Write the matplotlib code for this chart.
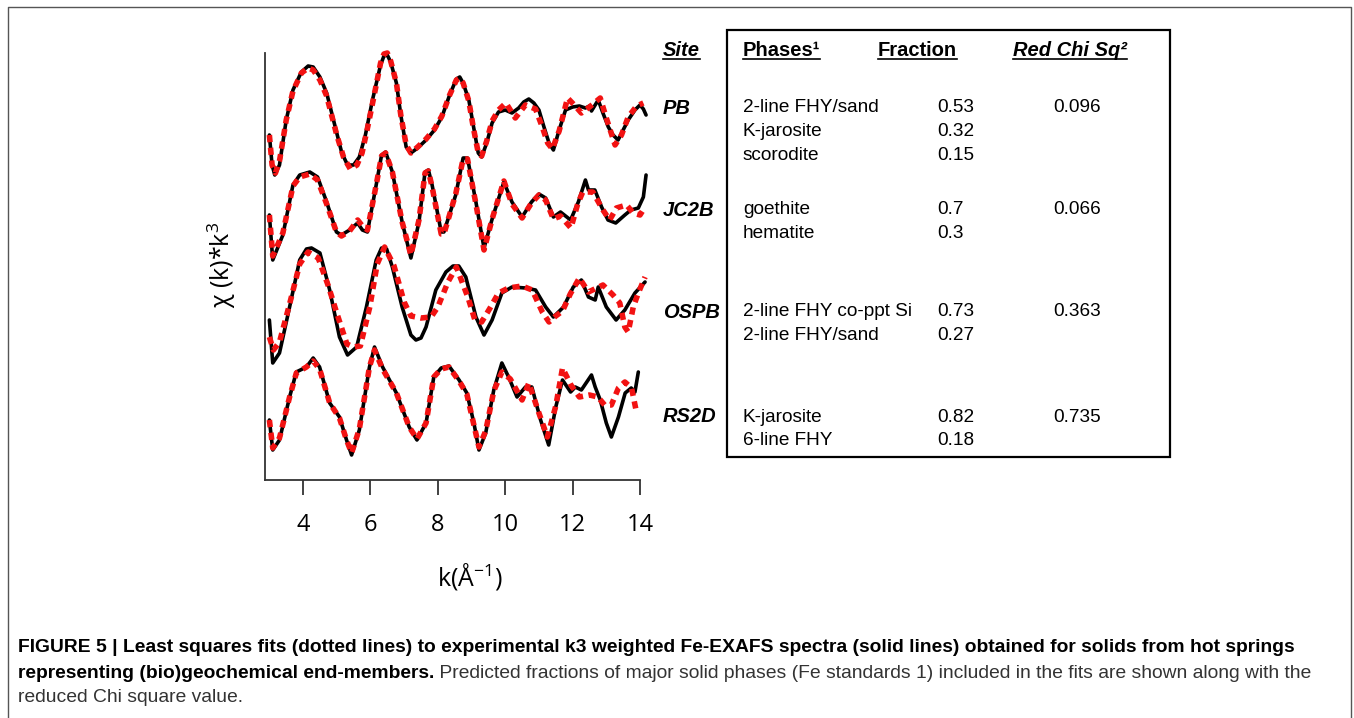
import matplotlib
matplotlib.use("Agg")
import matplotlib.pyplot as plt
from matplotlib.lines import Line2D
from matplotlib.patches import Rectangle

plt.rcParams['mathtext.fontset'] = 'custom'
plt.rcParams['mathtext.rm'] = 'Open Sans'

# Espectros EXAFS (k, chi): datos (negro) y ajuste (rojo)
sites = ["PB", "JC2B", "OSPB", "RS2D"]
offsets = [36.5, 27.0, 16.8, 6.5]

pb_k = [3.0, 3.08, 3.16, 3.3, 3.5, 3.7, 3.95, 4.15, 4.3, 4.5, 4.7, 5.0, 5.15, 5.32, 5.5, 5.67, 5.85,
        6.06, 6.3, 6.4, 6.5, 6.6, 6.77, 6.9, 7.06, 7.2, 7.4, 7.65, 7.9, 8.12, 8.35, 8.55, 8.65, 8.75,
        8.92, 9.05, 9.2, 9.3, 9.45, 9.61, 9.8, 10.0, 10.2, 10.4, 10.55, 10.7, 10.85, 11.0, 11.15,
        11.3, 11.43, 11.6, 11.79, 12.0, 12.2, 12.38, 12.5, 12.56, 12.76, 12.9, 13.06, 13.2, 13.35,
        13.5, 13.65, 13.85, 14.0, 14.1, 14.18]
pb_data = [-2.0, -5.0, -6.0, -5.0, -0.5, 2.5, 4.3, 4.9, 4.8, 3.8, 2.2, -1.8, -3.8, -5.0, -5.0, -4.2,
           -2.0, 1.5, 5.0, 5.9, 6.0, 5.3, 3.2, 0.0, -3.2, -3.8, -3.3, -2.5, -1.5, -0.2, 2.0, 3.6, 3.8,
           3.2, 1.5, -1.0, -3.8, -4.2, -2.8, -0.8, 0.3, 0.5, 0.2, 0.7, 1.3, 1.6, 1.2, 0.5, -1.2,
           -2.8, -3.5, -1.5, 0.5, 0.8, 0.9, 0.7, 0.9, 0.4, 1.5, 0.2, -1.2, -2.0, -2.5,
           -1.5, -0.5, 0.5, 1.0, 0.6, 0.0]
pb_fit_k = [3.0, 3.08, 3.18, 3.3, 3.5, 3.7, 3.95, 4.15, 4.3, 4.5, 4.7, 5.0, 5.2, 5.4, 5.6, 5.75, 5.9,
            6.1, 6.3, 6.4, 6.5, 6.6, 6.77, 6.9, 7.06, 7.2, 7.4, 7.65, 7.9, 8.12, 8.35, 8.55, 8.65,
            8.75, 8.92, 9.05, 9.2, 9.3, 9.45, 9.61, 9.8, 10.02, 10.3, 10.6, 10.9, 11.1, 11.26, 11.4,
            11.6, 11.85, 12.05, 12.26, 12.5, 12.82, 13.0, 13.26, 13.45, 13.65, 13.9, 14.1]
pb_fit = [-2.0, -5.0, -5.8, -4.6, -0.5, 2.4, 4.2, 4.7, 4.5, 3.5, 1.9, -2.0, -4.2, -5.4, -5.0, -3.8,
          -1.5, 1.8, 5.2, 6.1, 6.2, 5.4, 3.2, 0.0, -3.0, -3.8, -3.2, -2.4, -1.4, -0.1, 2.0, 3.5,
          3.7, 3.2, 1.4, -1.2, -3.8, -4.1, -2.6, -0.6, 0.5, 1.2, -0.3, 1.0, 0.6, -1.2, -2.8, -3.4,
          -1.6, 1.7, 1.0, 0.2, 0.8, 1.7, -0.3, -3.0, -2.0, -0.2, 0.9, 1.2]

jc_k = [3.0, 3.1, 3.4, 3.7, 3.9, 4.2, 4.43, 4.7, 4.99, 5.14, 5.38, 5.62, 5.76, 5.91, 6.17, 6.33,
        6.45, 6.65, 6.94, 7.2, 7.44, 7.62, 7.72, 7.83, 8.1, 8.18, 8.53, 8.75, 8.88, 9.13, 9.37,
        9.62, 9.96, 10.2, 10.5, 10.78, 11.0, 11.2, 11.43, 11.64, 11.94, 12.17, 12.38, 12.47, 12.66,
        12.86, 13.05, 13.28, 13.55, 13.73, 13.95, 14.1, 14.18]
jc_data = [-0.5, -5.0, -2.5, 2.5, 3.5, 3.8, 3.3, 0.8, -2.2, -2.5, -2.0, -1.3, -2.0, -2.2, 2.5, 5.5,
           5.8, 3.8, -1.2, -4.8, -1.2, 3.8, 4.0, 2.5, -2.2, -2.2, 1.5, 5.2, 5.2, 0.8, -3.8,
           -0.8, 2.8, 0.8, -0.7, 0.8, 1.6, 1.2, -0.7, -0.2, -1.0, 0.8, 3.0, 2.0, 2.0,
           0.3, -1.0, -1.3, -0.5, 0.0, 0.2, 1.3, 3.5]
jc_fit_k = [3.0, 3.1, 3.4, 3.7, 3.9, 4.2, 4.43, 4.7, 4.99, 5.14, 5.38, 5.62, 5.76, 5.91, 6.17, 6.33,
            6.45, 6.65, 6.94, 7.2, 7.44, 7.62, 7.72, 7.83, 8.1, 8.18, 8.53, 8.75, 8.88, 9.13, 9.37,
            9.62, 9.96, 10.2, 10.5, 10.78, 11.0, 11.2, 11.43, 11.64, 11.95, 12.15, 12.3, 12.6, 12.9,
            13.1, 13.3, 13.6, 13.8, 14.0, 14.15]
jc_fit = [-0.5, -4.6, -2.3, 2.4, 3.3, 3.6, 3.0, 0.6, -2.2, -2.6, -2.1, -1.0, -1.6, -2.0, 2.5, 5.4,
          5.7, 3.8, -1.2, -4.5, -1.0, 3.7, 3.9, 2.3, -2.4, -2.4, 1.6, 5.1, 5.1, 0.6, -4.0,
          -0.8, 2.9, 0.6, -0.8, 0.7, 1.5, 1.0, -0.9, -0.6, -1.8, 0.6, 1.8, 1.8, 0.0,
          -1.0, 0.2, 0.5, -0.3, -0.5, 0.3]

os_k = [3.0, 3.1, 3.3, 3.6, 3.9, 4.1, 4.25, 4.5, 4.79, 5.08, 5.32, 5.59, 5.88, 6.17, 6.33, 6.48,
        6.65, 6.94, 7.2, 7.35, 7.5, 7.65, 7.94, 8.24, 8.45, 8.62, 8.83, 9.13, 9.37, 9.61, 9.9, 10.2,
        10.6, 10.9, 11.2, 11.43, 11.73, 12.02, 12.26, 12.47, 12.67, 12.76, 13.0, 13.29, 13.55,
        13.85, 14.15]
os_data = [-0.8, -5.1, -4.1, 0.5, 5.2, 6.3, 6.4, 5.9, 2.2, -2.5, -4.3, -3.5, 0.5, 5.2, 6.4, 6.3,
           4.5, 0.5, -2.3, -2.8, -2.6, -1.5, 2.2, 4.0, 4.6, 4.6, 3.5, -0.5, -2.3, -0.8, 1.9, 2.5,
           2.4, 2.2, 0.5, -0.5, 0.5, 2.5, 3.2, 1.5, 1.2, 2.5, 0.5, -0.8, 0.2, 1.9, 3.0]
os_fit_k = [3.0, 3.12, 3.3, 3.6, 3.9, 4.15, 4.45, 4.75, 5.0, 5.3, 5.5, 5.7, 5.98, 6.2, 6.42, 6.7,
            7.0, 7.2, 7.5, 7.8, 8.0, 8.3, 8.55, 8.9, 9.1, 9.3, 9.55, 9.8, 10.1, 10.5, 10.8, 11.1,
            11.3, 11.5, 11.7, 11.93, 12.2, 12.47, 12.9, 13.2, 13.4, 13.55, 13.65, 13.8, 13.95,
            14.15]
os_fit = [-2.5, -3.8, -3.0, 0.8, 4.8, 6.0, 5.4, 2.6, -0.1, -3.2, -3.5, -3.4, 0.5, 4.8, 6.5, 4.6,
          1.0, -0.4, -0.6, -0.5, 0.5, 3.0, 4.5, 1.4, -0.8, -1.0, 0.4, 1.9, 2.4, 2.6, 2.2, 0.0,
          -1.0, -0.4, 0.1, 1.8, 3.4, 2.0, 2.7, 1.7, 0.9, -1.5, -2.0, 0.5, 1.9, 3.5]

rs_k = [3.0, 3.1, 3.3, 3.6, 3.8, 4.1, 4.3, 4.49, 4.79, 5.08, 5.29, 5.44, 5.67, 5.97, 6.12, 6.36,
        6.77, 7.15, 7.38, 7.65, 7.88, 8.1, 8.33, 8.63, 8.86, 9.07, 9.22, 9.42, 9.66, 9.9, 10.1,
        10.35, 10.6, 10.79, 11.05, 11.29, 11.5, 11.7, 11.94, 12.08, 12.26, 12.56, 12.67, 12.82,
        13.0, 13.15, 13.36, 13.56, 13.74, 13.85, 13.95]
rs_data = [-0.5, -3.5, -2.5, 1.8, 4.3, 4.8, 5.7, 4.8, 1.2, -0.2, -2.5, -4.0, -1.5, 4.8, 6.8, 4.8,
           2.2, -1.2, -2.5, -0.8, 3.8, 4.7, 4.9, 3.5, 2.2, -0.8, -3.5, -1.8, 2.5, 5.2, 3.8,
           1.8, 2.8, 2.8, -0.5, -3.0, 0.8, 3.5, 2.3, 2.8, 2.5, 4.0, 2.8, 1.5,
           -0.8, -2.2, -0.2, 2.2, 2.7, 2.3, 4.3]
rs_fit_k = [3.0, 3.1, 3.3, 3.6, 3.8, 4.1, 4.3, 4.49, 4.79, 5.08, 5.29, 5.44, 5.67, 5.97, 6.12, 6.36,
            6.77, 7.15, 7.38, 7.65, 7.88, 8.1, 8.33, 8.63, 8.86, 9.07, 9.22, 9.42, 9.66, 9.9,
            10.15, 10.5, 10.7, 11.0, 11.25, 11.5, 11.7, 11.95, 12.2, 12.5, 12.75, 12.95, 13.15,
            13.36, 13.55, 13.75, 13.9]
rs_fit = [-0.5, -3.3, -2.3, 1.8, 4.2, 4.8, 5.4, 4.6, 1.2, -0.3, -2.5, -3.8, -1.4, 4.8, 6.5, 4.6,
          2.2, -1.2, -2.4, -0.8, 3.8, 4.6, 4.8, 3.4, 2.1, -1.0, -3.2, -1.6, 2.4, 4.3, 3.6,
          1.5, 3.2, 0.2, -2.2, 0.9, 4.7, 3.0, 1.8, 2.0, 1.8, 1.0, 1.0, 2.7, 3.3, 2.7, 0.2]

data_k = [pb_k, jc_k, os_k, rs_k]
data_chi = [pb_data, jc_data, os_data, rs_data]
fit_k = [pb_fit_k, jc_fit_k, os_fit_k, rs_fit_k]
fit_chi = [pb_fit, jc_fit, os_fit, rs_fit]

# Tabla de fases
site_rows_y = [108, 210, 312, 417]
phases = [["2-line FHY/sand", "K-jarosite", "scorodite"],
          ["goethite", "hematite"],
          ["2-line FHY co-ppt Si", "2-line FHY/sand"],
          ["K-jarosite", "6-line FHY"]]
fractions = [["0.53", "0.32", "0.15"], ["0.7", "0.3"], ["0.73", "0.27"], ["0.82", "0.18"]]
redchi = ["0.096", "0.066", "0.363", "0.735"]

W, H = 1354, 718
fig = plt.figure(figsize=(W / 100, H / 100), dpi=100)

def fx(px):
    return px / W

def fy(py):
    return 1 - py / H

ax = fig.add_axes([fx(265), fy(480), fx(640) - fx(265), fy(53) - fy(480)])
for i in range(4):
    ax.plot(data_k[i], [c + offsets[i] for c in data_chi[i]], color='black', lw=2.6,
            solid_joinstyle='round', solid_capstyle='round', clip_on=False, zorder=2)
    ax.plot(fit_k[i], [c + offsets[i] for c in fit_chi[i]], color='#f21212', lw=4.0,
            linestyle=(0, (1.3, 1.0)), clip_on=False, zorder=3)

ax.set_xlim(2.87, 14.0)
ax.set_ylim(0, 42.7)
ax.set_xticks([4, 6, 8, 10, 12, 14])
ax.set_yticks([])
for s in ['top', 'right']:
    ax.spines[s].set_visible(False)
for s in ['left', 'bottom']:
    ax.spines[s].set_color('#333333')
    ax.spines[s].set_linewidth(1.3)
ax.tick_params(axis='x', direction='out', length=11, width=1.3, color='#333333', pad=13,
               labelsize=17)
for lab in ax.get_xticklabels():
    lab.set_fontfamily('Open Sans')
ax.patch.set_alpha(0)

fig.text(fx(470), fy(577), r'k(Å$^{\mathregular{-1}}$)', family='Open Sans', fontsize=18,
         ha='center', va='center')
fig.text(fx(222), fy(265), r'χ (k)*k$^{\mathregular{3}}$', family='Open Sans', fontsize=18,
         rotation=90, ha='center', va='center')

# Recuadro de la tabla
fig.add_artist(Rectangle((fx(727), fy(457)), fx(1170) - fx(727), fy(30) - fy(457),
                         transform=fig.transFigure, fill=False, ec='black', lw=1.6))

tf = 'Liberation Sans'
headers = []
headers.append(fig.text(fx(663), fy(50), "Site", family=tf, fontsize=14.5, weight='bold',
                        style='italic', va='center'))
headers.append(fig.text(fx(743), fy(50), "Phases¹", family=tf, fontsize=14.5, weight='bold',
                        va='center'))
headers.append(fig.text(fx(878), fy(50), "Fraction", family=tf, fontsize=14.5, weight='bold',
                        va='center'))
headers.append(fig.text(fx(1013), fy(50), "Red Chi Sq²", family=tf, fontsize=14.5, weight='bold',
                        style='italic', va='center'))

for i in range(4):
    y0 = site_rows_y[i]
    fig.text(fx(663), fy(y0), sites[i], family=tf, fontsize=14.5, weight='bold', style='italic',
             va='center')
    for j in range(len(phases[i])):
        fig.text(fx(743), fy(y0 + 23.5 * j), phases[i][j], family=tf, fontsize=13.7, va='center')
        fig.text(fx(937), fy(y0 + 23.5 * j), fractions[i][j], family=tf, fontsize=13.7, va='center')
    fig.text(fx(1053), fy(y0), redchi[i], family=tf, fontsize=13.7, va='center')

# Subrayado de los encabezados
fig.canvas.draw()
inv = fig.transFigure.inverted()
for t in headers:
    bb = t.get_window_extent()
    (x0, y0), (x1, _) = inv.transform([(bb.x0, bb.y0 + 1), (bb.x1, bb.y0)])
    fig.add_artist(Line2D([x0, x1], [y0, y0], transform=fig.transFigure, color='black', lw=1.2))

# Marco exterior
fig.add_artist(Line2D([fx(8), fx(8), fx(1351), fx(1351)], [0, fy(7), fy(7), 0],
                      transform=fig.transFigure, color='#555555', lw=1.0))

# Pie de figura
cap1 = ("FIGURE 5 | Least squares fits (dotted lines) to experimental k3 weighted Fe-EXAFS "
        "spectra (solid lines) obtained for solids from hot springs")
cap2b = "representing (bio)geochemical end-members."
cap2 = (" Predicted fractions of major solid phases (Fe standards 1) included in the fits are "
        "shown along with the")
cap3 = "reduced Chi square value."
cf = 'Liberation Sans'
c1 = fig.text(fx(18), fy(648), cap1, family=cf, fontsize=13, weight='bold', va='center')
fig.canvas.draw()
bb = c1.get_window_extent()
size = 13 * (1290 - 18) / bb.width
c1.set_fontsize(size)
c2 = fig.text(fx(18), fy(673), cap2b, family=cf, fontsize=size, weight='bold', va='center')
fig.canvas.draw()
bb = c2.get_window_extent()
fig.text(inv.transform((bb.x1, 0))[0], fy(673), cap2, family=cf, fontsize=size, va='center',
         color='#333333')
fig.text(fx(18), fy(698), cap3, family=cf, fontsize=size, va='center', color='#333333')

fig.savefig('out.png', dpi=100)
